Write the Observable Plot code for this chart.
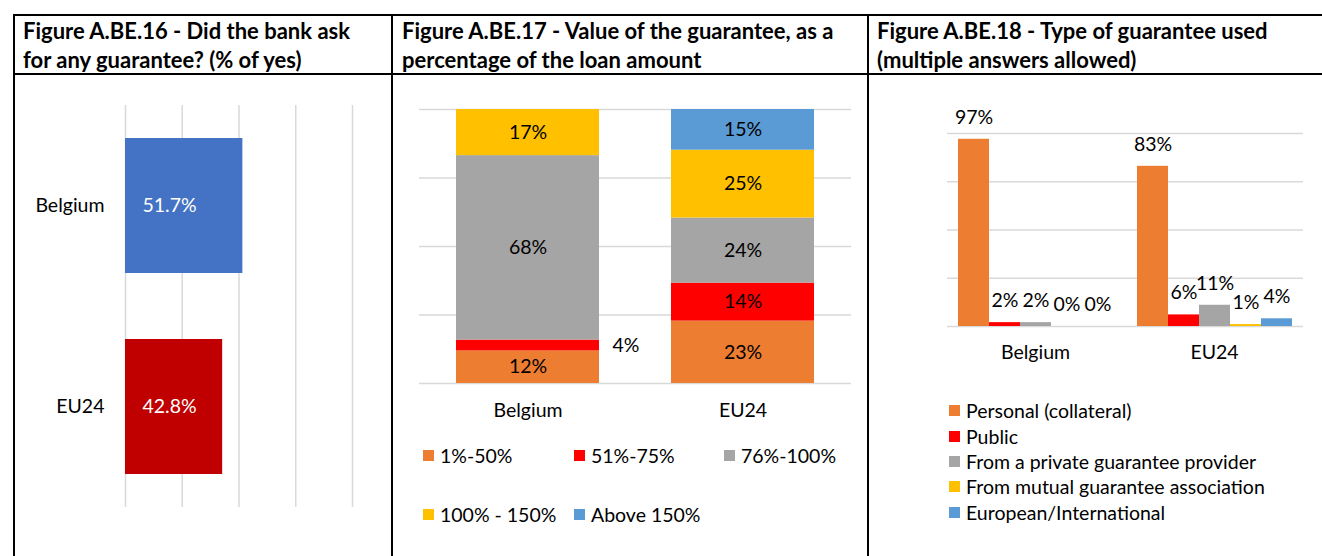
<!DOCTYPE html>
<html><head><meta charset="utf-8">
<script src="https://cdn.jsdelivr.net/npm/d3@7"></script>
<script src="https://cdn.jsdelivr.net/npm/@observablehq/plot@0.6"></script>
<style>
body{margin:0;background:#fff;font-family:Lato, "Noto Sans", sans-serif;}
#root{position:relative;width:1322px;height:556px;overflow:hidden;background:#fff;}
.ln{position:absolute;background:#000;}
.title{position:absolute;font-weight:bold;font-size:22px;line-height:29px;color:#000;white-space:nowrap;}
.panel{position:absolute;}
.leg{position:absolute;font-size:19.5px;color:#000;display:flex;align-items:center;white-space:nowrap;height:24px;}
.sw{width:11px;height:11px;margin-right:6px;display:inline-block;flex:none;}
</style></head><body><div id="root"></div>
<script>
// ---------- data ----------
const countries = ["Belgium", "EU24"];
const askYes = [51.7, 42.8];
const askColors = ["#4472C4", "#C00000"];

const valueBands = ["1%-50%", "51%-75%", "76%-100%", "100% - 150%", "Above 150%"];
const valueBelgium = [12, 4, 68, 17, 0];
const valueEU24 = [23, 14, 24, 25, 15];
const bandColors = ["#ED7D31", "#FF0000", "#A5A5A5", "#FFC000", "#5B9BD5"];

const guaranteeTypes = ["Personal (collateral)", "Public", "From a private guarantee provider", "From mutual guarantee association", "European/International"];
const typeBelgium = [97, 2, 2, 0, 0];
const typeEU24 = [83, 6, 11, 1, 4];
const typeColors = ["#ED7D31", "#FF0000", "#A5A5A5", "#FFC000", "#5B9BD5"];

const pctTicks = [0, 25, 50, 75, 100];
const shareTicks = [0, 0.25, 0.5, 0.75, 1];

const titles = [
  ["Figure A.BE.16 - Did the bank ask", "for any guarantee? (% of yes)"],
  ["Figure A.BE.17 - Value of the guarantee, as a", "percentage of the loan amount"],
  ["Figure A.BE.18 - Type of guarantee used", "(multiple answers allowed)"]
];

// ---------- layout ----------
const root = document.getElementById("root");
function el(cls, style, html) {
  const d = document.createElement("div");
  d.className = cls;
  Object.assign(d.style, style);
  if (html != null) d.innerHTML = html;
  root.appendChild(d);
  return d;
}
// table borders
el("ln", {left: "13px", top: "14px", width: "1309px", height: "2px"});
el("ln", {left: "13px", top: "73px", width: "1309px", height: "2px"});
el("ln", {left: "13px", top: "14px", width: "2px", height: "542px"});
el("ln", {left: "391px", top: "14px", width: "2px", height: "542px"});
el("ln", {left: "867px", top: "14px", width: "2px", height: "542px"});

const titleX = [23, 402, 877];
titles.forEach((t, i) => el("title", {left: titleX[i] + "px", top: "16px"}, t.join("<br>")));

const FS = 19.5;
const font = {fontFamily: "Lato, 'Noto Sans', sans-serif", fontSize: FS + "px", color: "#000", background: "transparent", overflow: "visible"};

// ---------- panel 1 ----------
const d1 = countries.map((c, i) => ({country: c, value: askYes[i]}));
const p1 = Plot.plot({
  width: 390, height: 440,
  marginLeft: 125, marginRight: 38, marginTop: 25, marginBottom: 13,
  style: font,
  x: {domain: [0, 100], axis: null},
  y: {domain: countries, paddingInner: 0.33, paddingOuter: 0.164, axis: null},
  color: {domain: countries, range: askColors},
  marks: [
    Plot.ruleX(pctTicks, {x: d => d, stroke: "#d9d9d9", strokeWidth: 1.5}),
    Plot.barX(d1, {y: "country", x: "value", fill: "country"}),
    Plot.text(d1, {y: "country", x: 0, text: d => d.value.toFixed(1) + "%", textAnchor: "start", dx: 17, fill: "white", fontSize: FS}),
    Plot.axisY({tickSize: 0, tickPadding: 21, fontSize: FS, label: null, fill: "#000"})
  ]
});
el("panel", {left: "0px", top: "80px"}).appendChild(p1);

// ---------- panel 2 ----------
const d2 = [];
countries.forEach((c, ci) => valueBands.forEach((b, bi) => {
  const v = [valueBelgium, valueEU24][ci][bi];
  if (v > 0) d2.push({country: c, band: b, value: v});
}));
const isSmall = d => d.country === "Belgium" && d.band === "51%-75%";
const p2 = Plot.plot({
  width: 475, height: 350,
  marginLeft: 26, marginRight: 17, marginTop: 29, marginBottom: 47,
  style: font,
  x: {domain: countries, paddingInner: 0.333, paddingOuter: 0.1667, axis: null},
  y: {domain: [0, 1], axis: null},
  color: {domain: valueBands, range: bandColors},
  marks: [
    Plot.ruleY(shareTicks, {y: d => d, stroke: "#d9d9d9", strokeWidth: 1.5}),
    Plot.barY(d2, Plot.stackY({x: "country", y: "value", fill: "band", offset: "normalize"})),
    Plot.text(d2, Plot.stackY({x: "country", y: "value", z: "band", offset: "normalize", text: d => isSmall(d) ? "" : d.value + "%", fill: "#000", fontSize: FS})),
    Plot.text(d2, Plot.stackY({x: "country", y: "value", z: "band", offset: "normalize", text: d => isSmall(d) ? d.value + "%" : "", dx: 98, fill: "#000", fontSize: FS})),
    Plot.axisX({tickSize: 0, tickPadding: 20, fontSize: FS, label: null, fill: "#000"})
  ]
});
el("panel", {left: "393px", top: "80px"}).appendChild(p2);

// legend 2
const leg2 = [[423, 455], [574, 455], [724, 455], [423, 514], [574, 514]];
valueBands.forEach((b, i) => {
  el("leg", {left: leg2[i][0] + "px", top: (leg2[i][1] - 12) + "px"},
    `<span class="sw" style="background:${bandColors[i]}"></span>${b}`);
});

// ---------- panel 3 ----------
const d3data = [];
countries.forEach((c, ci) => guaranteeTypes.forEach((t, ti) =>
  d3data.push({country: c, type: t, value: [typeBelgium, typeEU24][ci][ti]})));
const dims3 = {width: 452, height: 290, marginLeft: 77, marginRight: 19, marginTop: 53, marginBottom: 44};
// gridlines across the whole frame (behind the faceted bars)
const p3grid = Plot.plot({
  ...dims3,
  style: font,
  y: {domain: [0, 100], axis: null},
  marks: [Plot.ruleY(pctTicks, {y: d => d, stroke: "#d9d9d9", strokeWidth: 1.5})]
});
el("panel", {left: "870px", top: "80px"}).appendChild(p3grid);
const p3 = Plot.plot({
  ...dims3,
  style: font,
  fx: {domain: countries, paddingInner: 0.126, paddingOuter: 0.052, axis: null, label: null},
  x: {domain: guaranteeTypes, padding: 0, axis: null},
  y: {domain: [0, 100], axis: null},
  color: {domain: guaranteeTypes, range: typeColors},
  marks: [
    Plot.barY(d3data, {fx: "country", x: "type", y: "value", fill: "type"}),
    Plot.text(d3data, {fx: "country", x: "type", y: "value", text: d => d.value + "%", dy: -22, fill: "#000", fontSize: FS}),
    Plot.axisFx({anchor: "bottom", tickSize: 0, tickPadding: 19, fontSize: FS, label: null, fill: "#000"})
  ]
});
el("panel", {left: "870px", top: "80px"}).appendChild(p3);

// legend 3
const leg3y = [410.7, 436, 461.7, 486.7, 512];
guaranteeTypes.forEach((t, i) => {
  el("leg", {left: "949px", top: (leg3y[i] - 12) + "px"},
    `<span class="sw" style="background:${typeColors[i]}"></span>${t}`);
});
</script></body></html>
